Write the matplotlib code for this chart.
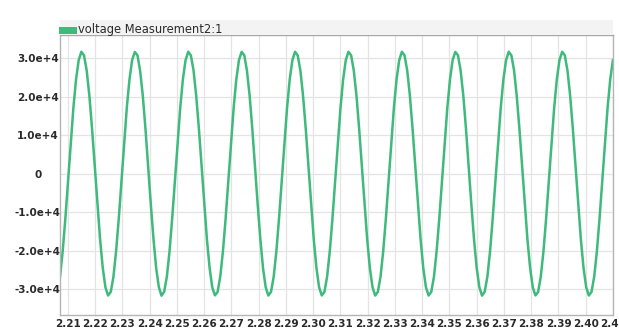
import numpy as np
import matplotlib
matplotlib.use("Agg")
import matplotlib.pyplot as plt
from matplotlib.patches import Rectangle

# sampled waveform: start time and sample interval (s)
t_start = 2.2071
t_step = 0.00098

voltage = [
    -26760, -20210, -11670, -1990, 7880, 16990, 24430, 29480, 31640, 30700,
    26760, 20210, 11670, 1990, -7880, -16990, -24430, -29480, -31640, -30710,
    -26820, -20150, -11700, -2050, 7910, 17020, 24380, 29510, 31600, 30750,
    26700, 20260, 11620, 1950, -7920, -16950, -24470, -29440, -31680, -30660,
    -26790, -20230, -11640, -1970, 7850, 17000, 24450, 29430, 31660, 30690,
    26800, 20180, 11700, 2020, -7850, -17030, -24400, -29510, -31600, -30730,
    -26740, -20190, -11690, -2010, 7900, 16960, 24410, 29500, 31620, 30720,
    26730, 20230, 11650, 1970, -7900, -16970, -24450, -29460, -31650, -30690,
    -26780, -20220, -11660, -1980, 7870, 17010, 24440, 29470, 31650, 30680,
    26780, 20190, 11690, 2000, -7870, -17000, -24410, -29490, -31620, -30720,
    -26750, -20200, -11680, -2000, 7890, 16980, 24420, 29490, 31630, 30710,
    26750, 20220, 11660, 1980, -7890, -16980, -24440, -29470, -31640, -30700,
    -26770, -20210, -11670, -1990, 7880, 16990, 24430, 29480, 31640, 30700,
    26760, 20210, 11670, 1990, -7880, -16990, -24430, -29480, -31640, -30710,
    -26810, -20160, -11710, -2040, 7920, 17010, 24390, 29500, 31610, 30740,
    26710, 20250, 11630, 1960, -7910, -16960, -24460, -29450, -31670, -30670,
    -26790, -20230, -11650, -1970, 7860, 16990, 24450, 29440, 31650, 30700,
    26790, 20190, 11690, 2010, -7860, -17020, -24410, -29500, -31610, -30720,
    -26750, -20200, -11680, -2000, 7900, 16970, 24420, 29490, 31630, 30710,
    26740, 20220, 11660, 1980, -7890, -16980, -24440, -29470, -31640, -30700,
    -26760, -20210, -11670, -1990, 7880, 16990, 24430, 29480,
]

x_ticks = [2.21, 2.22, 2.23, 2.24, 2.25, 2.26, 2.27, 2.28, 2.29, 2.30,
           2.31, 2.32, 2.33, 2.34, 2.35, 2.36, 2.37, 2.38, 2.39, 2.40, 2.41]
x_labels = ["2.21", "2.22", "2.23", "2.24", "2.25", "2.26", "2.27", "2.28",
            "2.29", "2.30", "2.31", "2.32", "2.33", "2.34", "2.35", "2.36",
            "2.37", "2.38", "2.39", "2.40", "2.41"]
y_ticks = [-30000, -20000, -10000, 0, 10000, 20000, 30000]
y_labels = ["-3.0e+4", "-2.0e+4", "-1.0e+4", "0", "1.0e+4", "2.0e+4", "3.0e+4"]

series_name = "voltage Measurement2:1"
line_color = "#3dba7c"

W, H = 619, 329
fig = plt.figure(figsize=(W / 100, H / 100), dpi=100)
fig.patch.set_facecolor("white")

ax = fig.add_axes([60 / W, 1 - 315 / H, 553 / W, 280 / H])
t = t_start + t_step * np.arange(len(voltage))
ax.plot(t, voltage, color=line_color, lw=1.8, solid_joinstyle="round")

ax.set_xlim(2.2071, 2.4100)
ax.set_ylim(-36700, 36000)
ax.set_xticks(x_ticks)
ax.set_xticklabels(x_labels)
ax.set_yticks(y_ticks)
ax.set_yticklabels(y_labels)

ax.grid(True, color="#e4e4e4", lw=0.9)
ax.set_axisbelow(True)
ax.tick_params(length=0, labelsize=7.5, labelcolor="#2a2a2a")
ax.tick_params(axis="x", pad=3)
ax.tick_params(axis="y", pad=16)
for lbl in ax.get_yticklabels():
    lbl.set_horizontalalignment("center")
for lbl in ax.get_xticklabels() + ax.get_yticklabels():
    lbl.set_fontweight("semibold")

for side in ["left", "right", "bottom"]:
    ax.spines[side].set_color("#b5b5b5")
    ax.spines[side].set_linewidth(1.0)
ax.spines["top"].set_color("#a8a8a8")
ax.spines["top"].set_linewidth(1.0)

# legend strip above the plot
fig.patches.append(Rectangle((60 / W, 1 - 35 / H), 553 / W, 15 / H,
                             transform=fig.transFigure, facecolor="#f3f3f3",
                             edgecolor="none", zorder=0))
fig.patches.append(Rectangle((59 / W, 1 - 34 / H), 18 / W, 7 / H,
                             transform=fig.transFigure, facecolor=line_color,
                             edgecolor="none", zorder=1))
fig.text(77.5 / W, 1 - 30 / H, series_name, fontsize=8.3, color="#2a2a2a",
         ha="left", va="center")

fig.savefig("out.png", dpi=100)
